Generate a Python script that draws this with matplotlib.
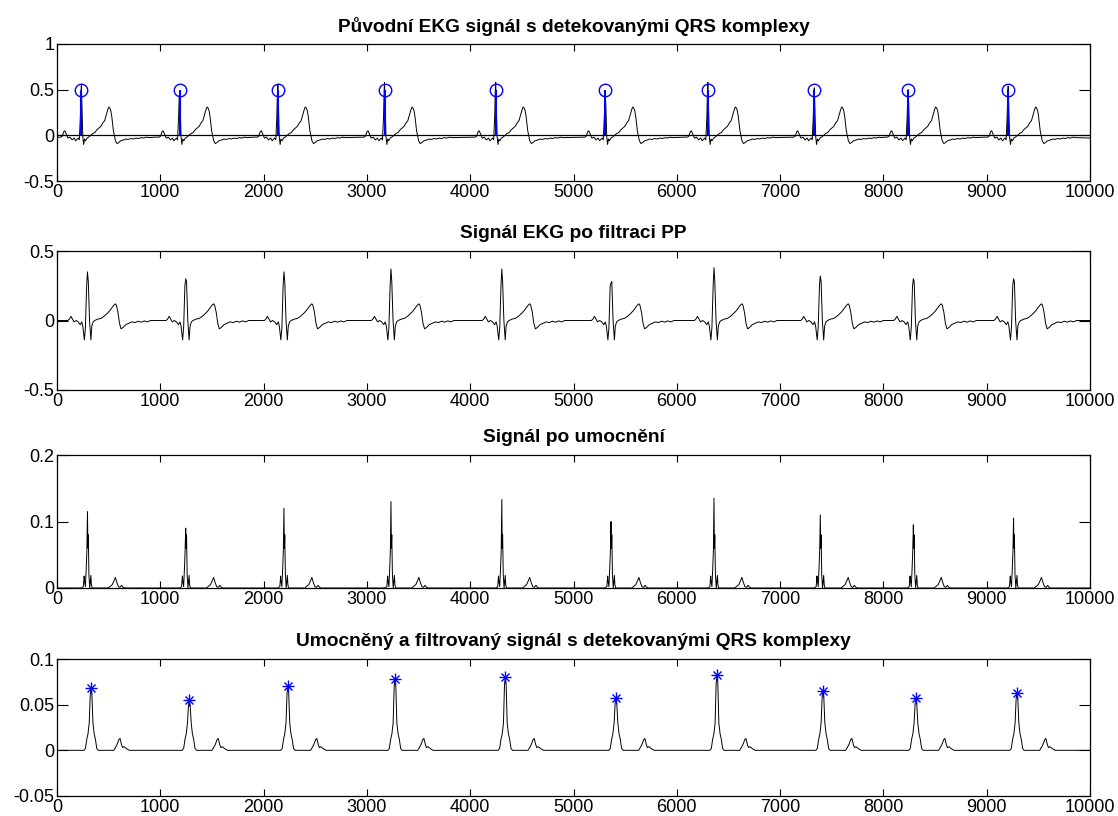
import matplotlib
matplotlib.use("Agg")
import matplotlib.pyplot as plt
import numpy as np

plt.rcParams['font.family'] = ['Liberation Sans', 'DejaVu Sans']
plt.rcParams['axes.unicode_minus'] = False

# --- values (samples / amplitudes) ---
# panel 1: raw ECG, R-peak positions and heights, detected QRS (stems at 0.5)
r_pos = [236, 1187, 2138, 3171, 4247, 5308, 6301, 7331, 8240, 9208]
r_amp = [0.55, 0.48, 0.55, 0.58, 0.58, 0.44, 0.58, 0.52, 0.50, 0.54]
qrs_pos = [236, 1187, 2138, 3171, 4247, 5308, 6301, 7331, 8240, 9208]
qrs_val = [0.5] * 10

# beat shape of the raw ECG: offset from R, value (None = R height)
ecg_off = [-230, -200, -185, -170, -160, -145, -130, -110, -90, -70, -55, -40,
           -30, -20, -10, -4, 0, 6, 14, 22, 30, 40, 55, 70, 90, 110, 130, 150,
           170, 190, 210, 225, 240, 255, 265, 275, 285, 295, 310, 330, 345, 360,
           380, 410, 430, 450, 480, 500, 530, 550, 580, 600, 630, 650]
ecg_val = [-0.02, -0.02, -0.01, 0.04, 0.05, 0.01, -0.03, -0.02, -0.05, -0.03,
           -0.06, -0.04, -0.03, -0.05, 0.2, None, None, 0.3, -0.02, -0.1, -0.04,
           -0.06, -0.03, -0.02, 0.0, 0.02, 0.03, 0.06, 0.08, 0.1, 0.14, 0.16,
           0.22, 0.28, 0.31, 0.30, 0.27, 0.2, 0.05, -0.06, -0.09, -0.08, -0.06,
           -0.05, -0.04, -0.045, -0.035, -0.04, -0.03, -0.035, -0.025, -0.03,
           -0.02, -0.025]

# panel 2: band-pass filtered ECG
f_pos = [295, 1246, 2197, 3233, 4306, 5363, 6360, 7389, 8290, 9260]
f_amp = [0.35, 0.30, 0.35, 0.37, 0.37, 0.27, 0.38, 0.32, 0.30, 0.30]
flt_off = [-220, -190, -175, -160, -145, -130, -110, -90, -70, -55, -45, -30,
           -20, -8, 0, 8, 20, 33, 42, 55, 70, 100, 130, 160, 190, 215, 235, 255,
           270, 280, 295, 310, 325, 345, 370, 400, 430, 460, 490, 520, 550, 580,
           610]
flt_val = [0.0, 0.0, 0.01, 0.03, 0.01, -0.01, 0.0, -0.01, -0.03, -0.01, -0.04,
           -0.14, -0.05, 0.25, None, 0.28, 0.0, -0.14, -0.04, -0.01, 0.0, 0.01,
           0.015, 0.03, 0.05, 0.07, 0.09, 0.11, 0.12, 0.11, 0.06, -0.02, -0.06,
           -0.05, -0.03, -0.02, -0.01, -0.015, -0.005, -0.012, -0.003, -0.01, 0.0]

# panel 3: squared signal
s_amp = [0.115, 0.09, 0.12, 0.13, 0.133, 0.10, 0.135, 0.11, 0.095, 0.105]
sq_off = [-60, -40, -32, -28, -20, -12, -6, 0, 4, 8, 14, 22, 28, 33, 38, 45,
          200, 240, 260, 270, 285, 300, 315, 330, 345, 360]
sq_val = [0.0, 0.002, 0.018, 0.01, 0.002, 0.03, 0.055, None, 0.06, 0.08, 0.02,
          0.0, 0.01, 0.019, 0.005, 0.0, 0.0, 0.005, 0.012, 0.016, 0.008, 0.002,
          0.001, 0.004, 0.001, 0.0]

# panel 4: squared and smoothed signal, detected peaks
m_pos = [330, 1281, 2235, 3272, 4340, 5411, 6389, 7415, 8315, 9293]
m_amp = [0.068, 0.055, 0.070, 0.078, 0.080, 0.057, 0.082, 0.065, 0.057, 0.063]
sm_off = [-70, -55, -42, -30, -18, -8, 0, 8, 18, 30, 42, 55, 70,
          220, 250, 270, 280, 295, 305, 320, 340, 370]
sm_val = [0.0, 0.002, 0.012, 0.018, 0.03, None, None, None, 0.03, 0.018, 0.012,
          0.002, 0.0, 0.0, 0.006, 0.012, 0.013, 0.006, 0.003, 0.004, 0.002, 0.0]

titles = ['Původní EKG signál s detekovanými QRS komplexy',
          'Signál EKG po filtraci PP',
          'Signál po umocnění',
          'Umocněný a filtrovaný signál s detekovanými QRS komplexy']
yticks = [[-0.5, 0, 0.5, 1], [-0.5, 0, 0.5], [0, 0.1, 0.2], [-0.05, 0, 0.05, 0.1]]
ylims = [(-0.5, 1), (-0.5, 0.5), (0, 0.2), (-0.05, 0.1)]


def build(centres, amps, off, val, start, end, frac=0.85):
    """chain beat shapes into one polyline"""
    xs, ys = [start[0]], [start[1]]
    for c, a in zip(centres, amps):
        for o, v in zip(off, val):
            if v is None:
                v = a if o == 0 else a * frac
            xs.append(c + o)
            ys.append(v)
    xs.append(end[0])
    ys.append(end[1])
    return np.array(xs), np.array(ys)


sig1 = build(r_pos, r_amp, ecg_off, ecg_val, (0, 0.0), (10000, -0.03))
sig2 = build(f_pos, f_amp, flt_off, flt_val, (0, 0.0), (10000, 0.0))
sig3 = build(f_pos, s_amp, sq_off, sq_val, (0, 0.0), (10000, 0.0), frac=0.5)
sig4 = build(m_pos, m_amp, sm_off, sm_val, (0, 0.0), (10000, 0.0), frac=0.9)

fig = plt.figure(figsize=(11.18, 8.16), dpi=100)
rects = [(57, 44, 181), (57, 251, 390), (57, 455, 588), (57, 659, 796)]
axes = []
for (left, top, bot) in rects:
    ax = fig.add_axes([left / 1118, 1 - bot / 816, (1090 - left) / 1118, (bot - top) / 816])
    axes.append(ax)

for ax, sig in zip(axes, [sig1, sig2, sig3, sig4]):
    ax.plot(sig[0], sig[1], color='k', lw=0.7)

# stems of detected QRS in panel 1
axes[0].axhline(0, color='k', lw=0.9)
axes[0].vlines(qrs_pos, 0, qrs_val, color='#0000ff', lw=1.5)
axes[0].plot(qrs_pos, qrs_val, 'o', color='#0000ff', mfc='none', ms=9, mew=1.0)

# detected maxima in panel 4 (matlab '*' = plus + cross)
axes[3].plot(m_pos, m_amp, '+', color='#0000ff', ms=9, mew=1.0)
axes[3].plot(m_pos, m_amp, 'x', color='#0000ff', ms=6, mew=1.0)

for i, ax in enumerate(axes):
    ax.set_xlim(0, 10000)
    ax.set_ylim(*ylims[i])
    ax.set_xticks(range(0, 10001, 1000))
    ax.set_yticks(yticks[i])
    ax.set_yticklabels(['%g' % t for t in yticks[i]])
    ax.tick_params(direction='in', top=True, right=True, labelsize=13, width=0.8, pad=2)
    ax.tick_params(axis='x', length=5)
    ax.tick_params(axis='y', length=8)
    for s in ax.spines.values():
        s.set_linewidth(0.9)
    ax.set_title(titles[i], fontsize=13.8, fontweight='bold', pad=9)

fig.savefig('out.png', dpi=100)
